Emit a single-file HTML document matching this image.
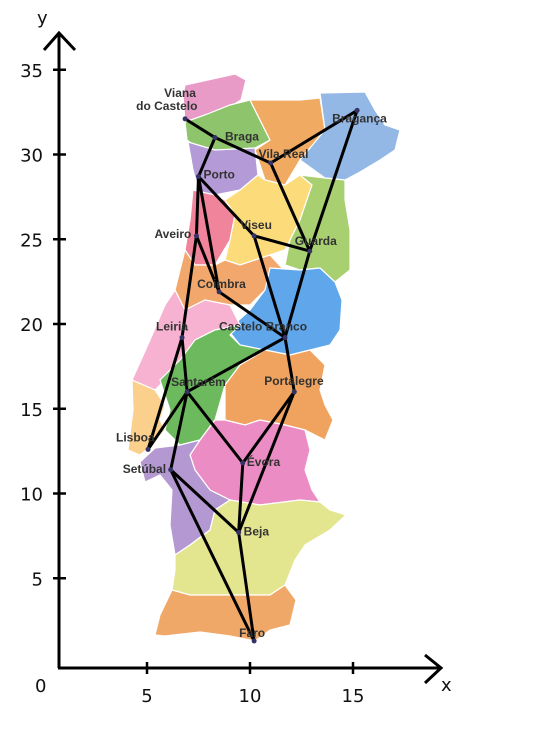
<!DOCTYPE html>
<html><head><meta charset="utf-8"><style>
html,body{margin:0;padding:0;background:#fff;}
svg{display:block;font-family:"Liberation Sans",sans-serif;}
.lbl{font-size:12px;font-weight:bold;fill:#333;}
.ax{font-size:18px;fill:#111;font-family:"DejaVu Sans","Liberation Sans",sans-serif;}
</style></head><body>
<svg id="c" width="539" height="744" viewBox="0 0 539 744">
<g id="map"></g>
<g id="axes"></g>
<g id="edges"></g>
<g id="nodes"></g>
</svg>
<script>
// data (chart coordinates)
const cities = ["Viana do Castelo","Braga","Bragança","Vila Real","Porto","Aveiro","Viseu","Guarda","Coimbra","Castelo Branco","Leiria","Santarém","Portalegre","Lisboa","Évora","Setúbal","Beja","Faro"];
const xs = [6.85,8.3,15.2,11.0,7.5,7.4,10.2,12.9,8.5,11.7,6.7,6.95,12.15,5.05,9.65,6.15,9.45,10.2];
const ys = [32.1,31.0,32.6,29.5,28.7,25.2,25.2,24.3,21.9,19.2,19.2,16.0,16.0,12.6,11.8,11.4,7.7,1.3];
const edgeFrom = [0,1,1,3,3,2,7,4,4,4,6,6,5,5,8,9,9,10,10,11,11,11,12,12,14,15,15,16];
const edgeTo   = [1,3,4,2,7,7,9,6,5,8,7,9,8,10,9,11,12,11,13,13,15,14,14,16,16,16,17,17];
const xTicks = [5,10,15];
const yTicks = [5,10,15,20,25,30,35];
// axis functions
const X = v => 44 + v*20.6;
const Y = v => 663 - v*16.95;
const NS = "http://www.w3.org/2000/svg";
function mk(tag, attrs, parent){const e=document.createElementNS(NS,tag);for(const k in attrs)e.setAttribute(k,attrs[k]);parent.appendChild(e);return e;}
const districts = [
["viana",  "#e99bc8","185,85 235,74 246,80 241,100 228,108 205,115 185,122 183,95"],
["braga",  "#8ec46c","185,122 205,115 230,105 250,100 260,120 270,140 255,148 230,150 215,150 195,146 187,140"],
["vila-real","#f0aa62","250,100 300,100 320,98 325,130 300,160 285,185 265,180 255,150 270,140 260,120"],
["braganca","#93b8e6","320,93 365,92 375,110 385,125 400,130 395,150 380,160 360,172 345,180 325,178 300,160 325,130"],
["porto",  "#b49ad6","188,142 215,150 255,148 258,175 240,190 215,195 200,195 193,170"],
["aveiro", "#f0849a","193,190 215,195 225,200 235,215 230,240 215,265 195,265 185,250 190,220"],
["viseu",  "#fcdc7a","225,200 240,190 258,175 265,180 285,185 300,175 312,185 300,220 285,250 270,255 240,265 225,260 230,240 235,215"],
["guarda", "#a8cf70","300,175 325,178 345,180 345,200 350,230 350,270 335,282 320,268 300,270 285,265 290,240 300,220 312,185"],
["coimbra","#f2a86c","185,250 195,265 215,265 225,260 240,265 270,255 282,268 265,290 250,305 230,305 205,300 185,310 175,290"],
["castelo-branco","#5fa6ea","270,268 300,270 320,268 335,282 342,300 340,330 330,345 310,350 290,355 265,350 240,345 228,330 250,310 265,290"],
["leiria", "#f6b2d0","175,290 185,310 205,300 230,305 240,325 215,330 195,340 185,360 170,375 155,390 132,380 150,340 165,305"],
["santarem","#6db95e","195,340 215,330 240,325 230,335 240,345 265,350 240,365 225,385 215,420 200,440 180,445 165,430 170,410 160,380 180,360"],
["lisboa", "#fbd08c","132,380 155,390 165,405 160,420 165,430 150,447 140,455 128,450 133,410"],
["portalegre","#f0a35e","265,350 290,355 310,350 325,365 320,390 325,405 333,420 325,440 305,430 285,425 260,420 245,425 225,420 225,385 240,365"],
["evora",  "#ec8cc4","225,420 245,425 260,420 285,425 305,430 310,450 305,470 312,490 320,502 300,500 260,505 230,500 210,490 195,470 190,455 200,440 215,420"],
["setubal","#b498d2","140,462 155,448 180,445 200,440 190,455 195,470 210,490 230,500 215,510 210,530 190,545 175,555 170,525 172,490 160,475 145,482"],
["beja",   "#e3e68e","175,555 190,545 210,530 215,510 230,500 260,505 300,500 320,502 330,510 346,515 330,530 305,545 295,560 285,585 270,595 230,595 190,595 172,590 175,570"],
["faro",   "#f0a868","172,590 190,595 230,595 270,595 285,585 296,600 290,625 270,630 255,641 230,636 200,632 165,636 155,635 160,615"]
];
const mapG=document.getElementById('map');
districts.forEach(d=>{const p=mk('polygon',{points:d[2],fill:d[1],stroke:'#fff','stroke-width':1.2},mapG);

});
const ax=document.getElementById('axes');
let l=mk('line',{x1:59,y1:668,x2:59,y2:33,stroke:'#000','stroke-width':3},ax);


l=mk('polyline',{points:'44,50 59,33 75,50',fill:'none',stroke:'#000','stroke-width':3},ax);


l=mk('line',{x1:58,y1:668,x2:441,y2:668,stroke:'#000','stroke-width':3},ax);


l=mk('polyline',{points:'425,655 441,668 425,683',fill:'none',stroke:'#000','stroke-width':3},ax);


yTicks.forEach(v=>{const t=mk('line',{x1:53,x2:66,y1:Y(v),y2:Y(v),stroke:'#000','stroke-width':2.5},ax);


const tx=mk('text',{x:43,y:Y(v)+7,'text-anchor':'end',class:'ax'},ax);tx.textContent=v;

});
xTicks.forEach(v=>{const t=mk('line',{x1:X(v),x2:X(v),y1:662,y2:674,stroke:'#000','stroke-width':2.5},ax);


const tx=mk('text',{x:X(v),y:702,'text-anchor':'middle',class:'ax'},ax);tx.textContent=v;

});
let t=mk('text',{x:35,y:692,class:'ax'},ax);t.textContent='0';


t=mk('text',{x:37,y:24,class:'ax'},ax);t.textContent='y';


t=mk('text',{x:441,y:691,class:'ax'},ax);t.textContent='x';


const eg=document.getElementById('edges');
edgeFrom.forEach((a,i)=>{const b=edgeTo[i];
const e=mk('line',{x1:X(xs[a]),y1:Y(ys[a]),x2:X(xs[b]),y2:Y(ys[b]),stroke:'#000','stroke-width':3,'stroke-linecap':'round'},eg);

});
const ng=document.getElementById('nodes');
const off={ "Viana do Castelo":[0,-24], "Braga":[10,3], "Bragança":[-25,12],"Vila Real":[-12,-5],"Porto":[5,2],
"Aveiro":[-42,2],"Viseu":[-14,-7],"Guarda":[-15,-6],"Coimbra":[-22,-4],"Castelo Branco":[-66,-7],"Leiria":[-26,-7],
"Santarém":[-16,-6],"Portalegre":[-30,-7],"Lisboa":[-32,-8],"Évora":[4,3],"Setúbal":[-48,3],"Beja":[5,3],"Faro":[-15,-4]};
cities.forEach((c,i)=>{const cx=X(xs[i]),cy=Y(ys[i]);
const n=mk('circle',{cx:cx,cy:cy,r:2.5,fill:'#336'},ng);


const o=off[c];
if(c==="Viana do Castelo"){
 const a=mk('text',{x:cx-21,y:cy-22,class:'lbl'},ng);a.textContent='Viana';
 
 
 const b=mk('text',{x:cx-49,y:cy-9,class:'lbl'},ng);b.textContent='do Castelo';
 
 
}else{
 const tx=mk('text',{x:cx+o[0],y:cy+o[1],class:'lbl'},ng);tx.textContent=c;
 
 
}});
</script>
</body></html>
